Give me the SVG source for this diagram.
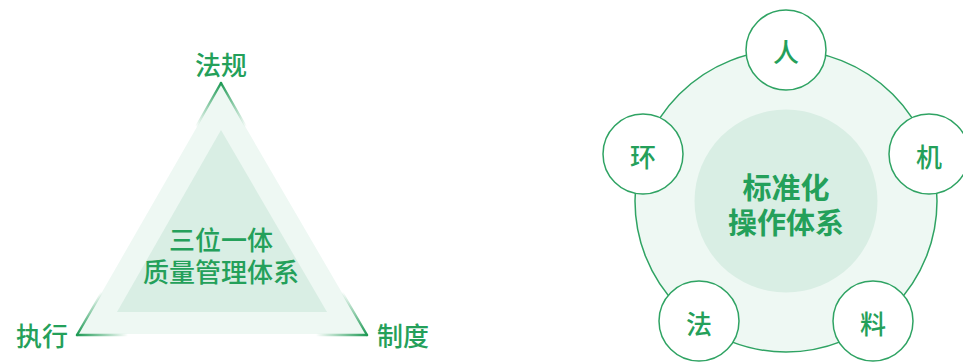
<svg xmlns="http://www.w3.org/2000/svg" width="963" height="362" viewBox="0 0 963 362">
<style>
.t{font-family:"Noto Sans CJK SC","Noto Sans",sans-serif;fill:#24a05a;text-anchor:middle;dominant-baseline:central}
.lbl{font-size:26px;font-weight:500}
.sc{fill:#fff;stroke:#2fa363;stroke-width:1.5}
.edge{fill:none;stroke-width:2.4;stroke-linecap:round}
</style>
<defs>
<linearGradient id="g1" gradientUnits="userSpaceOnUse" x1="221" y1="83" x2="196" y2="127"><stop offset="0" stop-color="#1f9a55"/><stop offset="1" stop-color="#1f9a55" stop-opacity="0"/></linearGradient>
<linearGradient id="g2" gradientUnits="userSpaceOnUse" x1="221" y1="83" x2="246" y2="127"><stop offset="0" stop-color="#1f9a55"/><stop offset="1" stop-color="#1f9a55" stop-opacity="0"/></linearGradient>
<linearGradient id="g3" gradientUnits="userSpaceOnUse" x1="77" y1="335" x2="102" y2="292"><stop offset="0" stop-color="#1f9a55"/><stop offset="1" stop-color="#1f9a55" stop-opacity="0"/></linearGradient>
<linearGradient id="g4" gradientUnits="userSpaceOnUse" x1="77" y1="335" x2="128" y2="335"><stop offset="0" stop-color="#1f9a55"/><stop offset="1" stop-color="#1f9a55" stop-opacity="0"/></linearGradient>
<linearGradient id="g5" gradientUnits="userSpaceOnUse" x1="367" y1="335" x2="342" y2="292"><stop offset="0" stop-color="#1f9a55"/><stop offset="1" stop-color="#1f9a55" stop-opacity="0"/></linearGradient>
<linearGradient id="g6" gradientUnits="userSpaceOnUse" x1="367" y1="335" x2="316" y2="335"><stop offset="0" stop-color="#1f9a55"/><stop offset="1" stop-color="#1f9a55" stop-opacity="0"/></linearGradient>
</defs>

<g id="triangle">
<polygon points="221,85 78,334 366,334" fill="#eef8f3"/>
<polygon points="221,130 117,312 327,312" fill="#d9eee4"/>
<path class="edge" d="M221,83 L196,127" stroke="url(#g1)"/>
<path class="edge" d="M221,83 L246,127" stroke="url(#g2)"/>
<path class="edge" d="M77,335 L102,292" stroke="url(#g3)"/>
<path class="edge" d="M77,335 L128,335" stroke="url(#g4)"/>
<path class="edge" d="M367,335 L342,292" stroke="url(#g5)"/>
<path class="edge" d="M367,335 L316,335" stroke="url(#g6)"/>
<text class="t lbl" x="221" y="238">三位一体</text>
<text class="t lbl" x="221" y="270">质量管理体系</text>
</g>
<g id="n-fagui"><text class="t lbl" x="221" y="63">法规</text></g>
<g id="n-zhixing"><text class="t lbl" x="42" y="334">执行</text></g>
<g id="n-zhidu"><text class="t lbl" x="403" y="334">制度</text></g>

<g id="center">
<circle cx="786" cy="201" r="151" fill="#eef8f3" stroke="#2fa363" stroke-width="1.5"/>
<circle cx="786" cy="201" r="91.5" fill="#d9eee4"/>
<text class="t" x="786" y="186" font-size="29" font-weight="bold">标准化</text>
<text class="t" x="786" y="221" font-size="29" font-weight="bold">操作体系</text>
</g>
<g id="n-ren"><circle class="sc" cx="786" cy="50" r="40"/><text class="t lbl" x="786" y="50">人</text></g>
<g id="n-ji"><circle class="sc" cx="929" cy="154" r="40"/><text class="t lbl" x="929" y="155">机</text></g>
<g id="n-liao"><circle class="sc" cx="873" cy="321" r="40"/><text class="t lbl" x="873" y="322">料</text></g>
<g id="n-fa"><circle class="sc" cx="699" cy="321" r="40"/><text class="t lbl" x="699" y="322">法</text></g>
<g id="n-huan"><circle class="sc" cx="643" cy="154" r="40"/><text class="t lbl" x="643" y="155">环</text></g>
</svg>
